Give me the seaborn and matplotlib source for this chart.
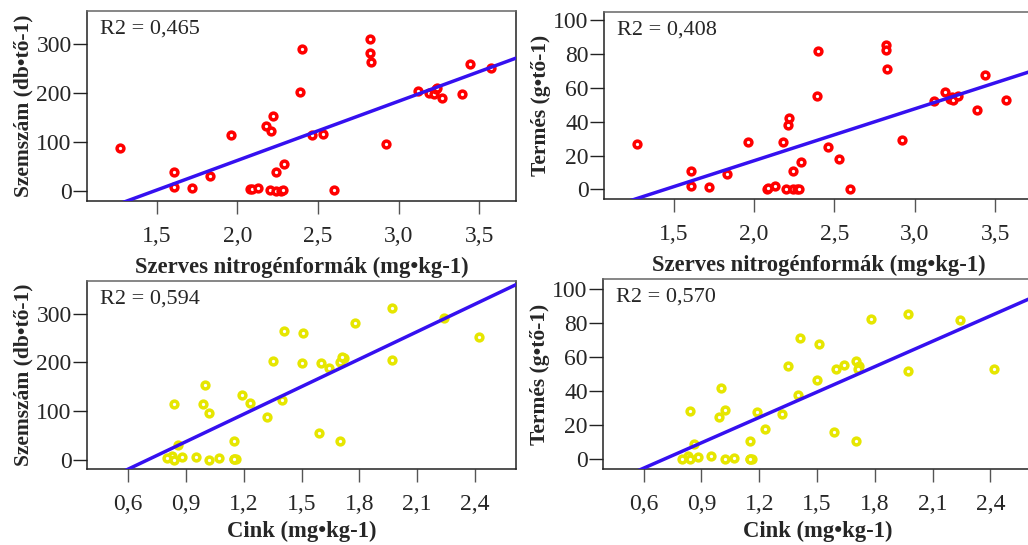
import numpy as np
import pandas as pd
import matplotlib
matplotlib.use("Agg")
import matplotlib.pyplot as plt
import seaborn as sns

# mintánkénti adatok (leolvasva az ábráról)
nitrogen = [1.27, 1.61, 1.61, 1.72, 1.83, 1.96, 2.08, 2.09, 2.13, 2.20, 2.24, 2.27,
            2.28, 2.60, 2.18, 2.21, 2.22, 2.24, 2.29, 2.39, 2.40, 2.46, 2.53, 2.82,
            2.82, 2.83, 2.92, 3.12, 3.19, 3.22, 3.23, 3.24, 3.27, 3.39, 3.44, 3.57]
cink = [1.32, 1.15, 0.83, 0.88, 0.86, 0.84, 0.80, 1.07, 0.95, 1.15, 0.84, 1.02,
        1.16, 1.15, 1.19, 1.40, 1.00, 1.70, 1.59, 1.35, 2.24, 0.99, 1.23, 1.97,
        1.78, 1.41, 1.02, 1.97, 1.70, 1.60, 1.72, 1.71, 1.64, 1.50, 1.51, 2.42]
szemszam = [88, 38, 7, 6, 30, 115, 3, 3, 6, 1, 0, 0,
            1, 1, 132, 123, 154, 38, 54, 202, 291, 115, 117, 311,
            281, 264, 96, 204, 201, 199, 208, 211, 189, 199, 260, 252]
termes = [26.6, 10.8, 1.8, 1.6, 9.0, 28.2, 0.4, 1.0, 1.8, 0.4, 0.0, 0.0,
          0.2, 0.0, 27.8, 38.0, 42.0, 10.8, 16.2, 55.0, 82.0, 25.0, 18.0, 85.4,
          82.4, 71.4, 29.0, 52.0, 57.6, 53.2, 54.8, 53.0, 55.4, 46.7, 67.6, 52.9]

r2_labels = ["R2 = 0,465", "R2 = 0,408", "R2 = 0,594", "R2 = 0,570"]
x_labels = ["Szerves nitrogénformák (mg•kg-1)", "Cink (mg•kg-1)"]
y_labels = ["Szemszám (db•tő-1)", "Termés (g•tő-1)"]
n_ticks = [1.5, 2.0, 2.5, 3.0, 3.5]
zn_ticks = [0.6, 0.9, 1.2, 1.5, 1.8, 2.1, 2.4]
szem_ticks = [0, 100, 200, 300]
termes_ticks = [0, 20, 40, 60, 80, 100]

df = pd.DataFrame({"nitrogen": nitrogen, "cink": cink,
                   "szemszam": szemszam, "termes": termes})

sns.set_style("white")
plt.rcParams['font.family'] = ['Liberation Serif', 'DejaVu Serif']

fig = plt.figure(figsize=(10.28, 5.45), dpi=100)

# [bal, alsó, szélesség, magasság], a jobb oldali panelek kilógnak a képből
panels = [
    dict(pos=[0.0846, 0.6312, 0.4173, 0.3486], x="nitrogen", y="szemszam",
         xlim=(1.068, 3.727), ylim=(-21, 368), xt=n_ticks, yt=szem_ticks,
         col="#ff0000", xl=x_labels[0], yl=y_labels[0], r2=r2_labels[0], lp=7),
    dict(pos=[0.5875, 0.6349, 0.4183, 0.3431], x="nitrogen", y="termes",
         xlim=(1.066, 3.742), ylim=(-5.7, 104.9), xt=n_ticks, yt=termes_ticks,
         col="#ff0000", xl=x_labels[0], yl=y_labels[1], r2=r2_labels[1], lp=7),
    dict(pos=[0.0846, 0.1394, 0.4173, 0.3450], x="cink", y="szemszam",
         xlim=(0.386, 2.613), ylim=(-19, 367), xt=zn_ticks, yt=szem_ticks,
         col="#e6e600", xl=x_labels[1], yl=y_labels[0], r2=r2_labels[2], lp=4),
    dict(pos=[0.5866, 0.1394, 0.4183, 0.3486], x="cink", y="termes",
         xlim=(0.389, 2.621), ylim=(-5.7, 105.9), xt=zn_ticks, yt=termes_ticks,
         col="#e6e600", xl=x_labels[1], yl=y_labels[1], r2=r2_labels[3], lp=4),
]

for p in panels:
    ax = fig.add_axes(p["pos"])
    ax.set_xlim(p["xlim"])
    ax.set_ylim(p["ylim"])
    sns.regplot(data=df, x=p["x"], y=p["y"], ax=ax, ci=None, truncate=False,
                scatter_kws=dict(s=24, facecolor="white", edgecolor=p["col"],
                                 linewidths=2.5, alpha=1, zorder=2),
                line_kws=dict(color="#3510f0", lw=2.5, zorder=3))
    ax.set_xlim(p["xlim"])
    ax.set_ylim(p["ylim"])

    ax.set_xticks(p["xt"])
    ax.set_xticklabels([f"{t:.1f}".replace(".", ",") for t in p["xt"]])
    ax.set_yticks(p["yt"])
    ax.set_yticklabels([str(t) for t in p["yt"]])
    ax.tick_params(axis="x", direction="out", length=9, width=1, color="#555555",
                   pad=9, labelsize=17, bottom=True)
    ax.tick_params(axis="y", direction="out", length=10, width=1, color="#222222",
                   pad=1, labelsize=17, left=True)
    for s in ax.spines.values():
        s.set_visible(True)
        s.set_color("#222222")
        s.set_linewidth(1.1)
    ax.spines["top"].set_color("#666666")

    ax.set_xlabel(p["xl"], fontsize=16.3, fontweight="bold", labelpad=p["lp"])
    ax.set_ylabel(p["yl"], fontsize=15.5, fontweight="bold", labelpad=2)
    ax.text(0.03, 0.955, p["r2"], transform=ax.transAxes, fontsize=16,
            va="top", ha="left")

fig.savefig("out.png", dpi=100)
